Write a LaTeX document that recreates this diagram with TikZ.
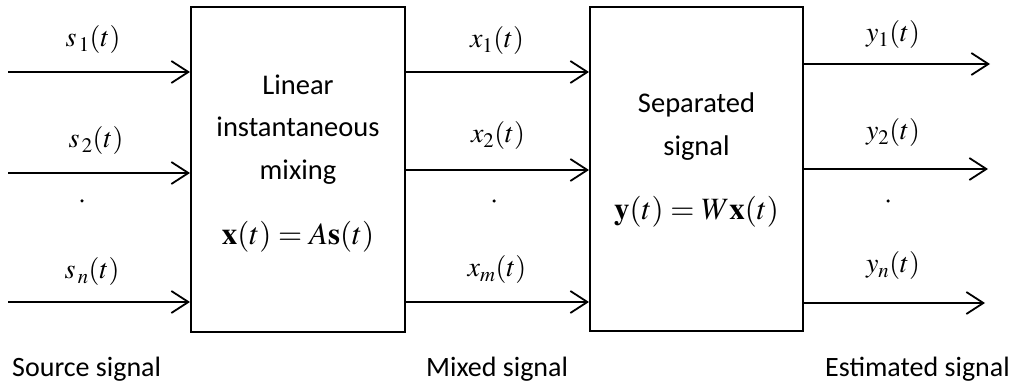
\documentclass[tikz,border=0pt]{standalone}
\usepackage{mathptmx}
\usepackage[no-math]{fontspec}
\setmainfont{Carlito}
\usetikzlibrary{positioning, calc, arrows.meta}
\tikzset{
    blockbox/.style={rectangle, draw=black, line width=2pt, minimum width=214pt, minimum height=325pt, inner sep=0pt},
    sigarrow/.style={-{Straight Barb[length=17pt, width=22pt, line width=1.8pt]}, line width=1.8pt},
    siglabel/.style={anchor=base, font=\fontsize{28}{32}\selectfont, inner sep=0pt},
    boxtext/.style={anchor=base, font=\fontsize{28.5}{32}\selectfont, inner sep=0pt},
    boxeq/.style={anchor=base, font=\fontsize{31}{36}\selectfont, inner sep=0pt},
    caption/.style={anchor=base west, font=\fontsize{28}{32}\selectfont, inner sep=0pt},
    vdot/.style={circle, fill=black, inner sep=0pt, minimum size=3.5pt},
}
\begin{document}
\begin{tikzpicture}[x=1pt, y=-1pt]
    \useasboundingbox (0,0) rectangle (1018,387);
    % blocks
    \node[blockbox] (mix) at (298,170) {};
    \node[blockbox, minimum width=213pt, minimum height=324pt] (sep) at (696.5,169) {};

    \node[boxtext] (mixt1) at (298,95) {Linear};
    \node[boxtext] (mixt2) at (298,137) {instantaneous};
    \node[boxtext] (mixt3) at (298,180) {mixing};
    \node[boxeq] (mixeq) at (298,245) {$\mathbf{x}(t)=A\mathbf{s}(t)$};

    \node[boxtext] (sept1) at (696.5,113) {Separated};
    \node[boxtext] (sept2) at (696.5,156) {signal};
    \node[boxeq] (sepeq) at (696.5,220) {$\mathbf{y}(t)=W\mathbf{x}(t)$};

    % arrows
    \foreach \i/\y in {1/72, 2/173, 3/302} {
        \coordinate (src\i) at (8,\y);
        \draw[sigarrow] (src\i) -- (src\i -| mix.west);
    }
    \foreach \i/\y in {1/72, 2/170, 3/302} {
        \coordinate (mx\i) at (500,\y);
        \draw[sigarrow] (mix.east |- mx\i) -- (sep.west |- mx\i);
    }
    \foreach \i/\y/\e in {1/64/990, 2/169/988, 3/303/985} {
        \coordinate (est\i) at (\e,\y);
        \draw[sigarrow] (sep.east |- est\i) -- (est\i);
    }

    % signal labels
    \node[siglabel] (ls1) at (93,47) {$s_{\,1}(t)$};
    \node[siglabel] (ls2) at (96,148) {$s_{\,2}(t)$};
    \node[siglabel] (ls3) at (92,279) {$s_{\,n}(t)$};
    \node[siglabel] (lx1) at (497,48) {$x_1(t)$};
    \node[siglabel] (lx2) at (498,143) {$x_2(t)$};
    \node[siglabel] (lx3) at (497,277) {$x_m(t)$};
    \node[siglabel] (ly1) at (893,42) {$y_1(t)$};
    \node[siglabel] (ly2) at (893,140) {$y_2(t)$};
    \node[siglabel] (ly3) at (893,273) {$y_n(t)$};

    \node[vdot] (dots) at (82,201) {};
    \node[vdot] (dotx) at (494,201) {};
    \node[vdot] (doty) at (888,201) {};

    % captions
    \node[caption] (capsrc) at (12,377) {Source signal};
    \node[caption] (capmix) at (426,377) {Mixed signal};
    \node[caption] (capest) at (825,377) {Estimated signal};
\end{tikzpicture}
\end{document}
